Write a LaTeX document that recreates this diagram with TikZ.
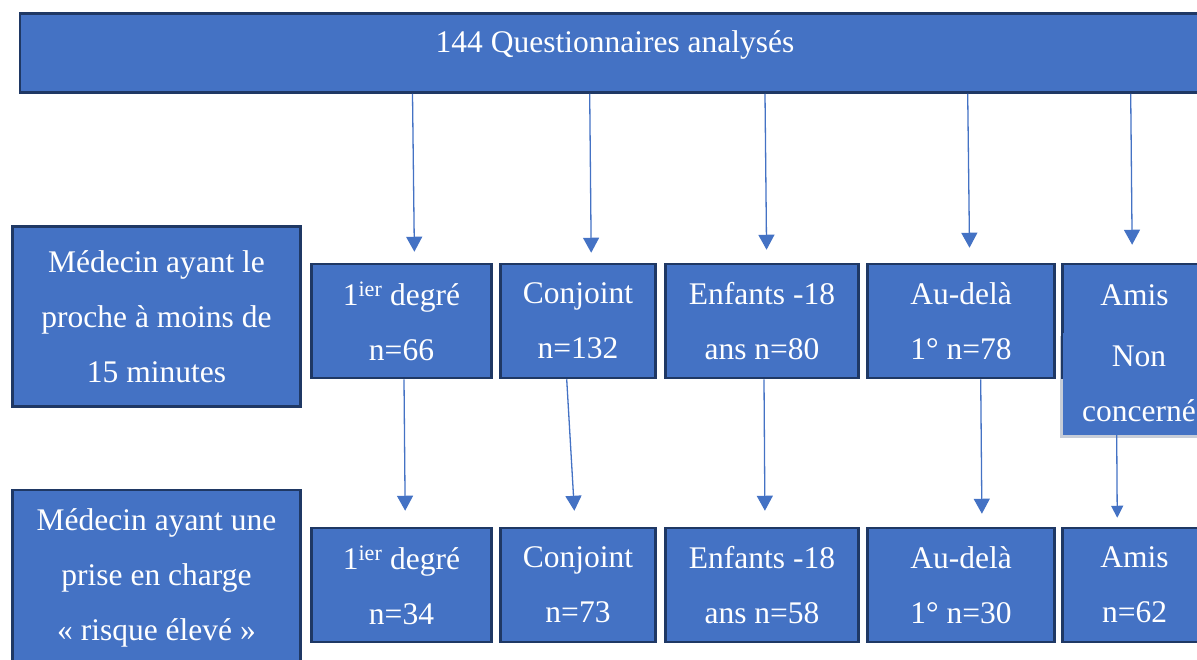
\documentclass[tikz,border=0pt]{standalone}
\usepackage{fontspec}
\setmainfont{Liberation Serif}
\usepackage{xcolor}
\usetikzlibrary{arrows.meta, positioning, shadows}

\definecolor{boxblue}{HTML}{4472C4}
\definecolor{boxline}{HTML}{1F3864}

\begin{document}
\begin{tikzpicture}[
    x=1pt, y=-1pt,
    grp/.style={draw=boxline, line width=2.5pt, fill=boxblue, text=white, align=center,
        font=\fontsize{31.5}{55}\selectfont, inner sep=0pt, minimum height=114pt},
    side/.style={grp, minimum width=288pt},
    hdr/.style={grp, minimum width=1190pt, minimum height=79pt, text height=22pt, text depth=23pt},
    nc/.style={fill=boxblue, text=white, align=center, font=\fontsize{31.5}{55}\selectfont,
        inner sep=0pt, minimum width=152pt, minimum height=102pt,
        drop shadow={shadow xshift=-3pt, shadow yshift=-3pt, opacity=0.25, fill=boxline}},
    arr/.style={-{Triangle[width=16pt, length=15pt]}, line width=1.3pt, draw=boxblue},
]
\useasboundingbox (0,0) rectangle (1197,659);

\node[hdr] (top) at (615,53) {144 Questionnaires analysés};

\node[side, minimum height=180pt] (med1) at (156.5,316.5) {Médecin ayant le\\proche à moins de\\15 minutes};
\node[side, minimum height=176pt] (med2) at (156.5,578) {Médecin ayant une\\prise en charge\\« risque élevé »};

% ligne 1
\node[grp, minimum width=180pt] (deg1) at (401.5,321) {1\textsuperscript{ier} degré\\n=66};
\node[grp, minimum width=155pt, right=6.5pt of deg1] (conj1) {Conjoint\\n=132};
\node[grp, minimum width=193pt, right=7.5pt of conj1] (enf1) {Enfants -18\\ans n=80};
\node[grp, minimum width=187pt, right=6.5pt of enf1] (aud1) {Au-delà\\1° n=78};
\node[grp, minimum width=144pt, right=5.5pt of aud1, text height=22pt, text depth=53pt] (amis1) {Amis};
\node[nc] (nonc) at (1139,384) {Non\\concerné};

% ligne 2
\node[grp, minimum width=180pt, below=147.5pt of deg1] (deg2) {1\textsuperscript{ier} degré\\n=34};
\node[grp, minimum width=155pt, below=147.5pt of conj1] (conj2) {Conjoint\\n=73};
\node[grp, minimum width=193pt, below=147.5pt of enf1] (enf2) {Enfants -18\\ans n=58};
\node[grp, minimum width=187pt, below=147.5pt of aud1] (aud2) {Au-delà\\1° n=30};
\node[grp, minimum width=144pt, below=147.5pt of amis1] (amis2) {Amis\\n=62};

\draw[arr, shorten >=11pt] ([xshift=11pt]deg1.north |- top.south) -- ([xshift=13pt]deg1.north);
\draw[arr, shorten >=10pt] ([xshift=11.7pt]conj1.north |- top.south) -- ([xshift=13.3pt]conj1.north);
\draw[arr, shorten >=13pt] ([xshift=3pt]enf1.north |- top.south) -- ([xshift=4.7pt]enf1.north);
\draw[arr, shorten >=15pt] ([xshift=6.7pt]aud1.north |- top.south) -- ([xshift=8.7pt]aud1.north);
\draw[arr, shorten >=18pt] ([xshift=-3.8pt]amis1.north |- top.south) -- ([xshift=-2.2pt]amis1.north);

\draw[arr, shorten >=16pt] ([xshift=2.5pt]deg1.south) -- ([xshift=3.8pt]deg2.north);
\draw[arr, shorten >=16pt] ([xshift=-11.3pt]conj1.south) -- ([xshift=-2.7pt]conj2.north);
\draw[arr, shorten >=16pt] ([xshift=2pt]enf1.south) -- ([xshift=3pt]enf2.north);
\draw[arr, shorten >=13pt] ([xshift=19.7pt]aud1.south) -- ([xshift=21pt]aud2.north);
\draw[arr, -{Triangle[width=12pt, length=12pt]}, shorten >=9pt] ([xshift=-22.3pt]nonc.south) -- ([xshift=-17.2pt]amis2.north);

\end{tikzpicture}
\end{document}
